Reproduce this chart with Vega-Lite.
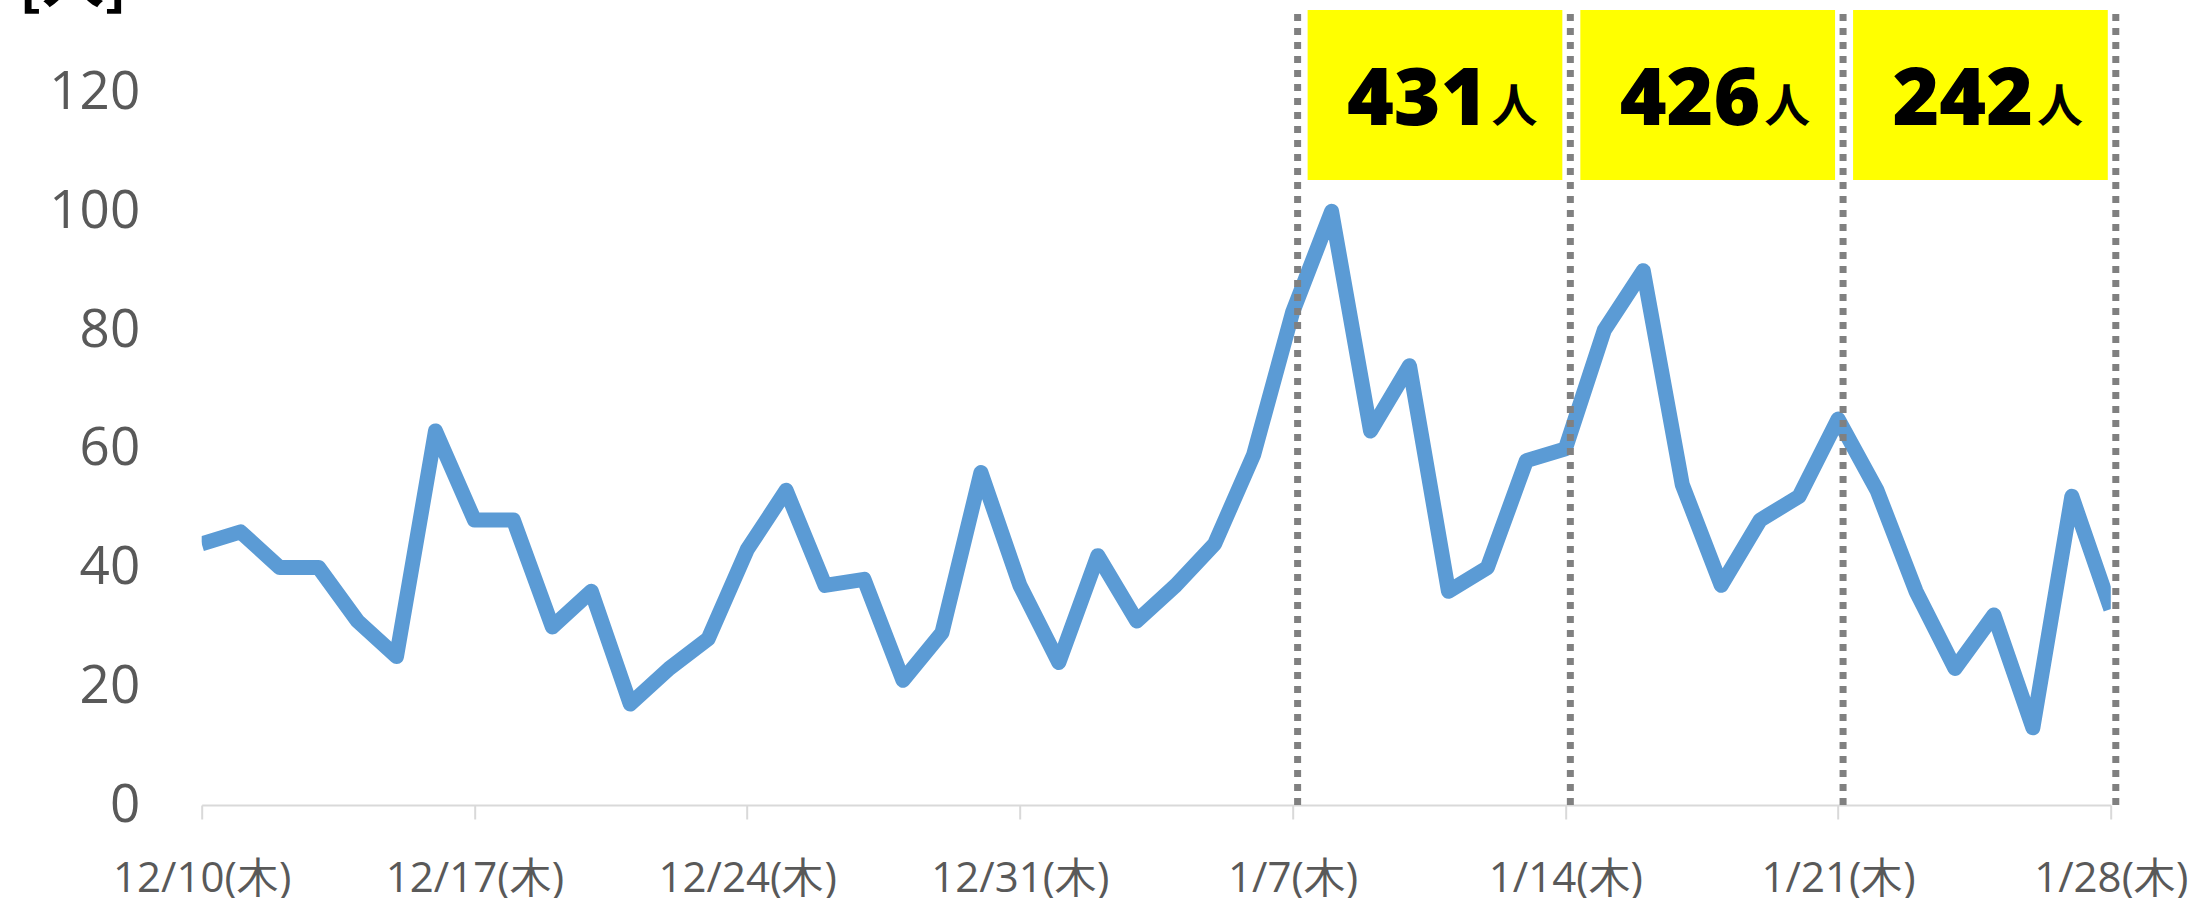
{
  "$schema": "https://vega.github.io/schema/vega-lite/v6.json",
  "autosize": {"type": "none"},
  "padding": {"left": 201.7, "top": 0, "right": 82.2, "bottom": 93},
  "width": 1909.1,
  "height": 805,
  "background": "white",
  "config": {"view": {"stroke": null}},
  "datasets": {
    "daily": [
      {"date": "2020-12-10", "count": 44}, {"date": "2020-12-11", "count": 46}, {"date": "2020-12-12", "count": 40},
      {"date": "2020-12-13", "count": 40}, {"date": "2020-12-14", "count": 31}, {"date": "2020-12-15", "count": 25},
      {"date": "2020-12-16", "count": 63}, {"date": "2020-12-17", "count": 48}, {"date": "2020-12-18", "count": 48},
      {"date": "2020-12-19", "count": 30}, {"date": "2020-12-20", "count": 36}, {"date": "2020-12-21", "count": 17},
      {"date": "2020-12-22", "count": 23}, {"date": "2020-12-23", "count": 28}, {"date": "2020-12-24", "count": 43},
      {"date": "2020-12-25", "count": 53}, {"date": "2020-12-26", "count": 37}, {"date": "2020-12-27", "count": 38},
      {"date": "2020-12-28", "count": 21}, {"date": "2020-12-29", "count": 29}, {"date": "2020-12-30", "count": 56},
      {"date": "2020-12-31", "count": 37}, {"date": "2021-01-01", "count": 24}, {"date": "2021-01-02", "count": 42},
      {"date": "2021-01-03", "count": 31}, {"date": "2021-01-04", "count": 37}, {"date": "2021-01-05", "count": 44},
      {"date": "2021-01-06", "count": 59}, {"date": "2021-01-07", "count": 83}, {"date": "2021-01-08", "count": 100},
      {"date": "2021-01-09", "count": 63}, {"date": "2021-01-10", "count": 74}, {"date": "2021-01-11", "count": 36},
      {"date": "2021-01-12", "count": 40}, {"date": "2021-01-13", "count": 58}, {"date": "2021-01-14", "count": 60},
      {"date": "2021-01-15", "count": 80}, {"date": "2021-01-16", "count": 90}, {"date": "2021-01-17", "count": 54},
      {"date": "2021-01-18", "count": 37}, {"date": "2021-01-19", "count": 48}, {"date": "2021-01-20", "count": 52},
      {"date": "2021-01-21", "count": 65}, {"date": "2021-01-22", "count": 53}, {"date": "2021-01-23", "count": 36},
      {"date": "2021-01-24", "count": 23}, {"date": "2021-01-25", "count": 32}, {"date": "2021-01-26", "count": 13},
      {"date": "2021-01-27", "count": 52}, {"date": "2021-01-28", "count": 33}
    ],
    "weeks": [
      {"start": "2021-01-07", "end": "2021-01-14", "total": "431", "unit": "人"},
      {"start": "2021-01-14", "end": "2021-01-21", "total": "426", "unit": "人"},
      {"start": "2021-01-21", "end": "2021-01-28", "total": "242", "unit": "人"}
    ],
    "markers": [
      {"date": "2021-01-07"}, {"date": "2021-01-14"}, {"date": "2021-01-21"}, {"date": "2021-01-28"}
    ]
  },
  "layer": [
    {
      "data": {"name": "weeks"},
      "mark": {"type": "rect", "color": "#FFFF00", "xOffset": 15, "x2Offset": -3},
      "encoding": {
        "x": {"field": "start", "type": "temporal"},
        "x2": {"field": "end"},
        "y": {"datum": 133.9},
        "y2": {"datum": 105.3}
      }
    },
    {
      "data": {"name": "daily"},
      "mark": {"type": "line", "color": "#5B9BD5", "strokeWidth": 15, "strokeJoin": "round", "strokeCap": "butt", "clip": true},
      "encoding": {
        "x": {
          "field": "date", "type": "temporal",
          "scale": {"type": "utc", "domain": [{"year": 2020, "month": 12, "date": 10, "utc": true}, {"year": 2021, "month": 1, "date": 28, "utc": true}]},
          "axis": {
            "title": null,
            "values": [
              {"year": 2020, "month": 12, "date": 10, "utc": true},
              {"year": 2020, "month": 12, "date": 17, "utc": true},
              {"year": 2020, "month": 12, "date": 24, "utc": true},
              {"year": 2020, "month": 12, "date": 31, "utc": true},
              {"year": 2021, "month": 1, "date": 7, "utc": true},
              {"year": 2021, "month": 1, "date": 14, "utc": true},
              {"year": 2021, "month": 1, "date": 21, "utc": true},
              {"year": 2021, "month": 1, "date": 28, "utc": true}
            ],
            "format": "%-m/%-d(木)",
            "grid": false,
            "domainColor": "#D9D9D9",
            "domainWidth": 2,
            "tickColor": "#D9D9D9",
            "tickWidth": 2,
            "tickSize": 14,
            "labelPadding": 39,
            "labelFont": "Open Sans",
            "labelFontSize": 42,
            "labelColor": "#595959",
            "labelAngle": 0,
            "labelOverlap": false,
            "labelFlush": false
          }
        },
        "y": {
          "field": "count", "type": "quantitative",
          "scale": {"domain": [0, 135.6], "nice": false},
          "axis": {
            "values": [0, 20, 40, 60, 80, 100, 120],
            "grid": false,
            "domain": false,
            "ticks": false,
            "tickSize": 0,
            "labelPadding": 62,
            "labelFont": "Open Sans",
            "labelFontSize": 53,
            "labelColor": "#595959",
            "title": "[人]",
            "titleAngle": 0,
            "titleX": -183.7,
            "titleY": 2,
            "titleAlign": "left",
            "titleBaseline": "alphabetic",
            "titleFont": "Noto Sans CJK JP",
            "titleFontSize": 62,
            "titleFontWeight": "bold",
            "titleColor": "#000000"
          }
        }
      }
    },
    {
      "data": {"name": "markers"},
      "mark": {"type": "rule", "color": "#808080", "strokeWidth": 7, "strokeDash": [7, 7], "xOffset": 5},
      "encoding": {
        "x": {"field": "date", "type": "temporal"},
        "y": {"datum": 0},
        "y2": {"datum": 133.6}
      }
    },
    {
      "data": {"name": "weeks"},
      "mark": {"type": "text", "font": "Open Sans", "fontWeight": 800, "fontSize": 80, "color": "#000000", "align": "right", "baseline": "alphabetic", "dx": 195},
      "encoding": {
        "x": {"field": "start", "type": "temporal"},
        "y": {"datum": 114.6},
        "text": {"field": "total"}
      }
    },
    {
      "data": {"name": "weeks"},
      "mark": {"type": "text", "font": "Noto Sans CJK JP", "fontWeight": "bold", "fontSize": 46, "color": "#000000", "align": "left", "baseline": "alphabetic", "dx": 199, "dy": -3},
      "encoding": {
        "x": {"field": "start", "type": "temporal"},
        "y": {"datum": 114.6},
        "text": {"field": "unit"}
      }
    }
  ]
}
